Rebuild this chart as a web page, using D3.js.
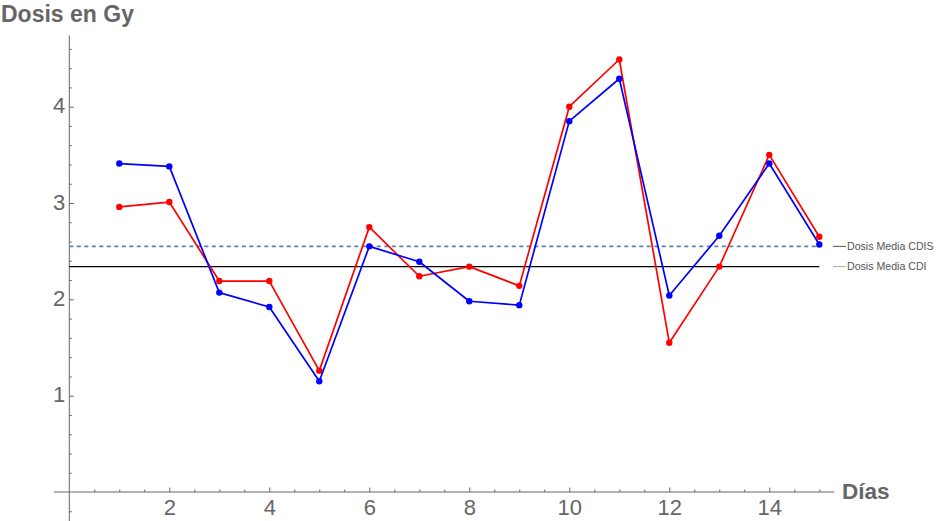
<!DOCTYPE html>
<html>
<head>
<meta charset="utf-8">
<script src="https://cdn.jsdelivr.net/npm/d3@7"></script>
<style>
html,body{margin:0;padding:0;background:#fff;}
svg{display:block;font-family:"Liberation Sans",Arial,sans-serif;}
</style>
</head>
<body>
<svg id="chart" width="944" height="521"></svg>
<script>
// ---- data ----
const days = [1,2,3,4,5,6,7,8,9,10,11,12,13,14,15];
const redSeries  = [2.96,3.01,2.19,2.19,1.26,2.75,2.24,2.34,2.14,4.00,4.49,1.55,2.34,3.50,2.65];
const blueSeries = [3.41,3.38,2.07,1.92,1.15,2.55,2.39,1.98,1.94,3.85,4.29,2.04,2.66,3.41,2.57];
const meanCDIS = 2.55;
const meanCDI  = 2.34;
const xMajorTicks = [2,4,6,8,10,12,14];
const yMajorTicks = [1,2,3,4];
const yAxisTitle = "Dosis en Gy";
const xAxisTitle = "Días";
const legendLabels = ["Dosis Media CDIS","Dosis Media CDI"];

// ---- layout ----
const svg = d3.select("#chart");
const x = d3.scaleLinear().domain([0,15]).range([69.3,819.3]);
const y = d3.scaleLinear().domain([0,4]).range([492,106.7]);
const axisColor = "#666";

const xMinor = d3.range(1,31).map(d=>d/2).filter(v=>!xMajorTicks.includes(v));
const yMinor = d3.range(-1,24).map(d=>+(d*0.2).toFixed(1)).filter(v=>v!==0 && !yMajorTicks.includes(v));

// x axis
const gx = svg.append("g").attr("transform",`translate(0,${y(0)})`);
gx.append("line").attr("x1",x(-0.31)).attr("x2",x(15.3)).attr("stroke",axisColor).attr("stroke-width",1);
const gxMinor = gx.append("g").call(d3.axisBottom(x).tickValues(xMinor).tickSizeInner(-2.5).tickSizeOuter(0).tickFormat(""));
const gxMajor = gx.append("g").call(d3.axisBottom(x).tickValues(xMajorTicks).tickSizeInner(-4.5).tickSizeOuter(0).tickPadding(7).tickFormat(d3.format("d")));
[gxMinor,gxMajor].forEach(g=>{g.select(".domain").remove();g.selectAll("line").attr("stroke",axisColor);});
gxMajor.selectAll("text").attr("fill","#666").style("font-size","22px").attr("font-family","Liberation Sans, Arial, sans-serif");

// y axis
const gy = svg.append("g").attr("transform",`translate(${x(0)},0)`);
gy.append("line").attr("y1",y(4.74)).attr("y2",521).attr("stroke",axisColor).attr("stroke-width",1);
const gyMinor = gy.append("g").call(d3.axisLeft(y).tickValues(yMinor).tickSizeInner(-2.5).tickSizeOuter(0).tickFormat(""));
const gyMajor = gy.append("g").call(d3.axisLeft(y).tickValues(yMajorTicks).tickSizeInner(-4.5).tickSizeOuter(0).tickPadding(4).tickFormat(d3.format("d")));
[gyMinor,gyMajor].forEach(g=>{g.select(".domain").remove();g.selectAll("line").attr("stroke",axisColor);});
gyMajor.selectAll("text").attr("fill","#666").style("font-size","22px").attr("font-family","Liberation Sans, Arial, sans-serif").attr("dy","0.28em");

// axis titles
svg.append("text").attr("x",1).attr("y",22).text(yAxisTitle)
  .attr("font-weight","bold").attr("font-size","23px").attr("fill","#666");
svg.append("text").attr("x",842).attr("y",499).text(xAxisTitle)
  .attr("font-weight","bold").attr("font-size","22.5px").attr("fill","#666");

// reference lines
svg.append("line").attr("x1",x(0)).attr("x2",x(15)).attr("y1",y(meanCDIS)).attr("y2",y(meanCDIS))
  .attr("stroke","#5E81B5").attr("stroke-width",1.6).attr("stroke-dasharray","4,3.5");
svg.append("line").attr("x1",x(0)).attr("x2",x(15)).attr("y1",y(meanCDI)).attr("y2",y(meanCDI))
  .attr("stroke","#000").attr("stroke-width",1.4);

// series
const line = d3.line().x((d,i)=>x(days[i])).y(d=>y(d));
[[redSeries,"#FF0000"],[blueSeries,"#0000FF"]].forEach(([vals,col])=>{
  svg.append("path").datum(vals).attr("d",line).attr("fill","none").attr("stroke",col).attr("stroke-width",1.7).attr("stroke-linejoin","round");
  svg.append("g").selectAll("circle").data(vals).join("circle")
    .attr("cx",(d,i)=>x(days[i])).attr("cy",d=>y(d)).attr("r",3.2).attr("fill",col);
});

// legend labels
const legY = [meanCDIS, meanCDI];
const legCols = ["#555","#aaa"];
legendLabels.forEach((lab,i)=>{
  const yy = y(legY[i]);
  svg.append("line").attr("x1",833).attr("x2",846).attr("y1",yy).attr("y2",yy).attr("stroke",legCols[i]).attr("stroke-width",1);
  svg.append("text").attr("x",847).attr("y",yy).attr("dy","0.36em").text(lab)
    .attr("font-size","10.6px").attr("fill","#555");
});
</script>
</body>
</html>
